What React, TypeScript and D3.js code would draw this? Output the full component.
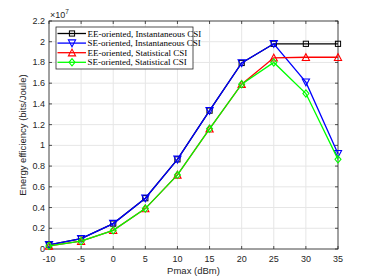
import React, { useRef, useEffect } from 'react';
import * as d3 from 'd3';

const pmax = [-10, -5, 0, 5, 10, 15, 20, 25, 30, 35];
const eeInst = [0.04, 0.1, 0.245, 0.49, 0.865, 1.335, 1.795, 1.98, 1.98, 1.98];
const seInst = [0.04, 0.1, 0.245, 0.49, 0.865, 1.335, 1.795, 1.98, 1.61, 0.92];
const eeStat = [0.03, 0.075, 0.18, 0.39, 0.715, 1.16, 1.59, 1.845, 1.85, 1.85];
const seStat = [0.03, 0.075, 0.18, 0.39, 0.715, 1.16, 1.59, 1.8, 1.5, 0.865];
const xTicks = [-10, -5, 0, 5, 10, 15, 20, 25, 30, 35];
const yTicks = [0, 0.2, 0.4, 0.6, 0.8, 1, 1.2, 1.4, 1.6, 1.8, 2, 2.2];

const seriesNames = [
  'EE-oriented, Instantaneous CSI',
  'SE-oriented, Instantaneous CSI',
  'EE-oriented, Statistical CSI',
  'SE-oriented, Statistical CSI',
];
const seriesValues = [eeInst, seInst, eeStat, seStat];
const seriesColors = ['#000000', '#0000ff', '#ff0000', '#00ff00'];
const seriesMarkers = ['square', 'triangleDown', 'triangle', 'diamond'];

const width = 374;
const height = 280;
const marginLeft = 49;
const marginRight = 36;
const marginTop = 21;
const marginBottom = 31;

const x = d3.scaleLinear().domain([-10, 35]).range([marginLeft, width - marginRight]);
const y = d3.scaleLinear().domain([0, 2.2]).range([height - marginBottom, marginTop]);

function marker(g, kind, cx, cy, color) {
  if (kind === 'square') {
    g.append('rect').attr('x', cx - 2.6).attr('y', cy - 2.6).attr('width', 5.2).attr('height', 5.2)
      .attr('fill', 'none').attr('stroke', color).attr('stroke-width', 1);
  } else if (kind === 'triangleDown') {
    g.append('path').attr('d', `M${cx - 3.6},${cy - 3.2}L${cx + 3.6},${cy - 3.2}L${cx},${cy + 3.6}Z`)
      .attr('fill', 'none').attr('stroke', color).attr('stroke-width', 1.1);
  } else if (kind === 'triangle') {
    g.append('path').attr('d', `M${cx - 3.6},${cy + 3.2}L${cx + 3.6},${cy + 3.2}L${cx},${cy - 3.6}Z`)
      .attr('fill', 'none').attr('stroke', color).attr('stroke-width', 1.1);
  } else {
    g.append('path').attr('d', `M${cx},${cy - 3.6}L${cx + 3},${cy}L${cx},${cy + 3.6}L${cx - 3},${cy}Z`)
      .attr('fill', 'none').attr('stroke', color).attr('stroke-width', 1.1);
  }
}

function drawChart(node) {
  const svg = d3.select(node);
  svg.selectAll('*').remove();
  const axisColor = '#262626';
  const font = 'Liberation Sans, Arial, sans-serif';

  svg.append('rect').attr('x', marginLeft).attr('y', marginTop)
    .attr('width', x(35) - x(-10)).attr('height', y(0) - y(2.2)).attr('fill', '#fff');

  // grid
  const grid = svg.append('g').attr('stroke', '#e6e6e6').attr('stroke-width', 1);
  xTicks.forEach(t => grid.append('line').attr('x1', x(t)).attr('x2', x(t)).attr('y1', y(0)).attr('y2', y(2.2)));
  yTicks.forEach(t => grid.append('line').attr('x1', x(-10)).attr('x2', x(35)).attr('y1', y(t)).attr('y2', y(t)));

  // box + ticks
  const ax = svg.append('g').attr('stroke', axisColor).attr('stroke-width', 0.8);
  ax.append('rect').attr('x', x(-10)).attr('y', y(2.2)).attr('width', x(35) - x(-10)).attr('height', y(0) - y(2.2)).attr('fill', 'none');
  xTicks.forEach(t => {
    ax.append('line').attr('x1', x(t)).attr('x2', x(t)).attr('y1', y(0)).attr('y2', y(0) - 3);
    ax.append('line').attr('x1', x(t)).attr('x2', x(t)).attr('y1', y(2.2)).attr('y2', y(2.2) + 3);
  });
  yTicks.forEach(t => {
    ax.append('line').attr('x1', x(-10)).attr('x2', x(-10) + 3).attr('y1', y(t)).attr('y2', y(t));
    ax.append('line').attr('x1', x(35)).attr('x2', x(35) - 3).attr('y1', y(t)).attr('y2', y(t));
  });

  const labels = svg.append('g').attr('font-family', font).attr('font-size', 9).attr('fill', axisColor);
  xTicks.forEach(t => labels.append('text').attr('x', x(t)).attr('y', y(0) + 13).attr('text-anchor', 'middle').text(t));
  yTicks.forEach(t => labels.append('text').attr('x', x(-10) - 4).attr('y', y(t) + 3).attr('text-anchor', 'end').text(d3.format('~g')(t)));
  const exp = labels.append('text').attr('x', x(-10) + 1).attr('y', y(2.2) - 3);
  exp.append('tspan').text('\u00d710');
  exp.append('tspan').attr('font-size', 6.5).attr('dy', -4).text('7');

  labels.append('text').attr('x', (x(-10) + x(35)) / 2).attr('y', height - 6).attr('text-anchor', 'middle').attr('font-size', 9.5).text('Pmax (dBm)');
  labels.append('text').attr('transform', `translate(${26},${(y(0) + y(2.2)) / 2}) rotate(-90)`)
    .attr('text-anchor', 'middle').attr('font-size', 9.5).text('Energy efficiency (bits/Joule)');

  // series
  const line = d3.line().x((d, i) => x(pmax[i])).y(d => y(d));
  seriesValues.forEach((vals, k) => {
    const g = svg.append('g');
    g.append('path').attr('d', line(vals)).attr('fill', 'none').attr('stroke', seriesColors[k]).attr('stroke-width', 1.3);
    vals.forEach((v, i) => marker(g, seriesMarkers[k], x(pmax[i]), y(v), seriesColors[k]));
  });

  // legend
  const lg = svg.append('g');
  const lx = 56, ly = 27, lw = 137, lh = 42;
  lg.append('rect').attr('x', lx).attr('y', ly).attr('width', lw).attr('height', lh)
    .attr('fill', '#fff').attr('stroke', axisColor).attr('stroke-width', 0.8);
  seriesNames.forEach((name, k) => {
    const yy = ly + 6.5 + k * 9.6;
    lg.append('line').attr('x1', lx + 1.5).attr('x2', lx + 30).attr('y1', yy).attr('y2', yy)
      .attr('stroke', seriesColors[k]).attr('stroke-width', 1.3);
    marker(lg, seriesMarkers[k], lx + 16, yy, seriesColors[k]);
    lg.append('text').attr('x', lx + 31.5).attr('y', yy + 3).attr('font-family', 'Liberation Serif, Times New Roman, serif')
      .attr('font-size', 9).attr('fill', '#000').text(name);
  });
}

const App = () => {
  const ref = useRef(null);
  useEffect(() => {
    if (ref.current) drawChart(ref.current);
  }, [ref]);
  return (
    <svg ref={ref} width={width} height={height}
      style={{ position: 'absolute', left: 0, top: 0, background: '#fff' }} />
  );
};

export default App;
